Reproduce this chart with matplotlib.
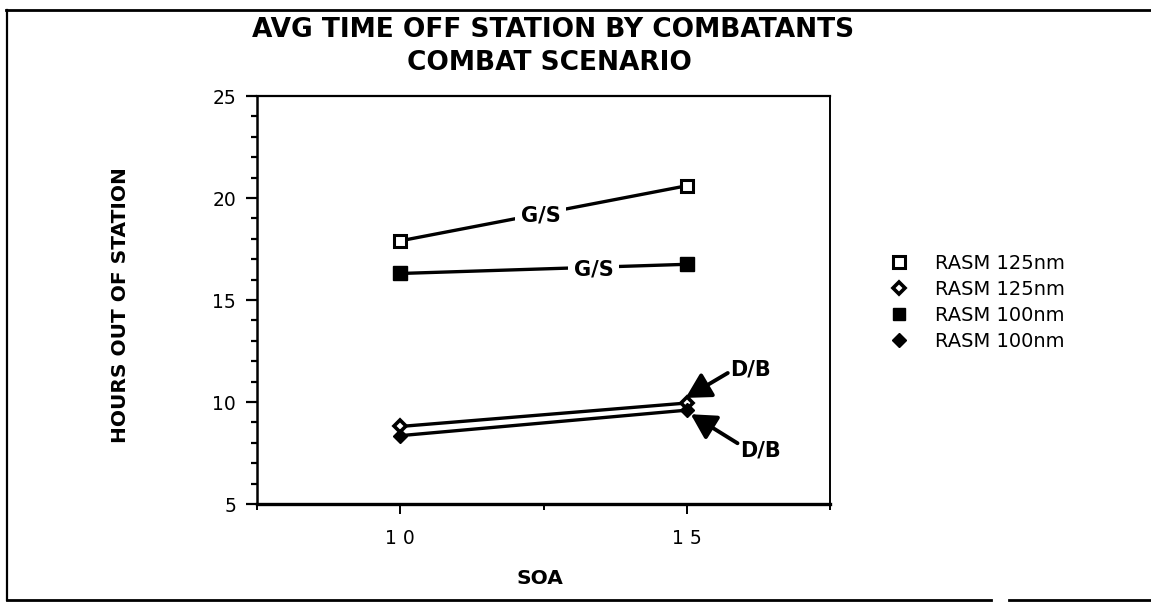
import matplotlib
matplotlib.use("Agg")
import matplotlib.pyplot as plt
from matplotlib.lines import Line2D

# ---- data ----
soa = [10, 15]
gs_125 = [17.9, 20.6]
db_125 = [8.8, 9.95]
gs_100 = [16.3, 16.75]
db_100 = [8.35, 9.6]
series_labels = ["RASM 125nm", "RASM 125nm", "RASM 100nm", "RASM 100nm"]
x_ticks = [10, 15]
x_tick_labels = ["1 0", "1 5"]
y_ticks = [5, 10, 15, 20, 25]
title_line1 = "AVG TIME OFF STATION BY COMBATANTS"
title_line2 = "COMBAT SCENARIO"
x_label = "SOA"
y_label = "HOURS OUT OF STATION"

W, H = 1151, 605
fig = plt.figure(figsize=(W / 100, H / 100), dpi=100)
plt.rcParams['font.family'] = ['DejaVu Sans']

def fx(px):
    return px / W

def fy(py):
    return 1 - py / H

left, right, top, bottom = 257, 830, 96, 504
ax = fig.add_axes([fx(left), fy(bottom), fx(right) - fx(left), fy(top) - fy(bottom)])

lw = 2.4
ax.plot(soa, gs_125, color='black', lw=lw, marker='s', ms=9, mfc='white', mec='black', mew=2.2, zorder=3)
ax.plot(soa, gs_100, color='black', lw=lw, marker='s', ms=10, mfc='black', mec='black', zorder=3)
ax.plot(soa, db_125, color='black', lw=lw, marker='D', ms=6.5, mfc='white', mec='black', mew=2.6, zorder=3)
ax.plot(soa, db_100, color='black', lw=lw, marker='D', ms=7.5, mfc='black', mec='black', zorder=3)

ax.set_xlim(7.5, 17.5)
ax.set_ylim(5, 25)
ax.set_xticks(x_ticks)
ax.set_xticklabels(x_tick_labels, fontsize=13.5)
ax.set_xticks([7.5, 12.5, 17.5], minor=True)
ax.set_yticks(y_ticks)
ax.set_yticklabels([str(v) for v in y_ticks], fontsize=13.5)
ax.set_yticks(range(5, 26), minor=True)
ax.tick_params(axis='y', which='major', direction='out', length=8, width=1.6, pad=7)
ax.tick_params(axis='y', which='minor', direction='out', length=4.5, width=1.6)
ax.tick_params(axis='x', which='major', direction='out', length=7, width=1.4, pad=11)
ax.tick_params(axis='x', which='minor', direction='out', length=4, width=1.4)
for side, w in (('left', 1.8), ('bottom', 2.4), ('top', 1.6), ('right', 1.4)):
    ax.spines[side].set_linewidth(w)

# inline labels
box = dict(facecolor='white', edgecolor='none', pad=4)
ax.text(12.45, 19.12, "G/S", fontsize=15, fontweight='bold', ha='center', va='center', bbox=box, zorder=5)
ax.text(13.38, 16.5, "G/S", fontsize=15, fontweight='bold', ha='center', va='center', bbox=box, zorder=5)
arrow = dict(arrowstyle='-|>,head_length=1.0,head_width=0.55', color='black', lw=2.8, shrinkA=0, shrinkB=0)
ax.annotate("D/B", xy=(14.98, 10.2), xytext=(16.12, 11.6), fontsize=15, fontweight='bold',
            ha='center', va='center', arrowprops=dict(arrow, relpos=(0, 0.4)), zorder=5)
ax.annotate("D/B", xy=(15.07, 9.4), xytext=(16.29, 7.6), fontsize=15, fontweight='bold',
            ha='center', va='center', arrowprops=dict(arrow, relpos=(0, 0.8)), zorder=5)

# titles / labels
fig.text(fx(553), fy(30), title_line1, fontsize=19, fontweight='bold', ha='center', va='center')
fig.text(fx(549), fy(63), title_line2, fontsize=19, fontweight='bold', ha='center', va='center')
fig.text(fx(121), fy(305), y_label, fontsize=14.5, fontweight='bold', rotation=90, ha='center', va='center')
fig.text(fx(540), fy(578), x_label, fontsize=14.5, fontweight='bold', ha='center', va='center')

# legend
handles = [
    Line2D([], [], ls='none', marker='s', ms=8, mfc='white', mec='black', mew=2.2),
    Line2D([], [], ls='none', marker='D', ms=6.5, mfc='white', mec='black', mew=2.6),
    Line2D([], [], ls='none', marker='s', ms=9, mfc='black', mec='black'),
    Line2D([], [], ls='none', marker='D', ms=7.5, mfc='black', mec='black'),
]
fig.legend(handles, series_labels, loc='upper left', bbox_to_anchor=(fx(889), fy(254)),
           frameon=False, fontsize=14, handlelength=1.0, handletextpad=1.35,
           labelspacing=0.36, borderpad=0, borderaxespad=0, numpoints=1)

# page border
for (x0, y0, x1, y1, w) in [(6, 10, 1151, 10, 2.0), (7, 10, 7, 600, 1.6),
                            (7, 600, 991, 600, 2.0), (1009, 600, 1151, 600, 2.0)]:
    fig.add_artist(Line2D([fx(x0), fx(x1)], [fy(y0), fy(y1)], color='black', lw=w,
                          transform=fig.transFigure))

fig.savefig("out.png", dpi=100, facecolor='white')
